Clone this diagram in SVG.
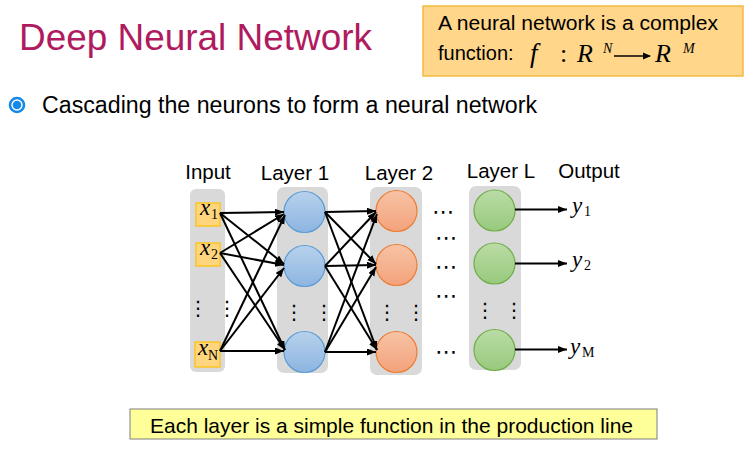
<svg xmlns="http://www.w3.org/2000/svg" width="752" height="459" viewBox="0 0 752 459">
  <style>
    .sans { font-family: "Liberation Sans", Arial, sans-serif; fill: #000; }
    .serif { font-family: "Liberation Serif", "Times New Roman", serif; fill: #000; }
    .hdr { font-size: 20.5px; text-anchor: middle; }
    .col { fill: #D9D9D9; }
    .inbox { fill: #FFD67F; stroke: #FFC000; stroke-width: 1.2; }
    .var { font-size: 23px; font-style: italic; }
    .sub { font-size: 14px; }
    .vdots { font-family: "DejaVu Sans", sans-serif; font-size: 20px; fill: #000; }
    .hdots { font-family: "DejaVu Sans", sans-serif; font-size: 22px; fill: #000; }
    .edge { stroke: #000; stroke-width: 2; fill: none; marker-end: url(#arrow); }
    .n1 { fill: url(#gBlue); stroke: #5B9BD5; stroke-width: 1.2; }
    .n2 { fill: url(#gOrange); stroke: #ED7D31; stroke-width: 1.2; }
    .nL { fill: url(#gGreen); stroke: #70AD47; stroke-width: 1.2; }
  </style>
  <defs>
    <marker id="arrow" markerUnits="userSpaceOnUse" markerWidth="10" markerHeight="8" refX="9" refY="3.5" orient="auto">
      <path d="M0,0 L9,3.5 L0,7 z" fill="#000"/>
    </marker>
    <linearGradient id="gBlue" x1="0" y1="0" x2="0" y2="1">
      <stop offset="0" stop-color="#B7D1EC"/>
      <stop offset="1" stop-color="#8DB5E1"/>
    </linearGradient>
    <linearGradient id="gOrange" x1="0" y1="0" x2="0" y2="1">
      <stop offset="0" stop-color="#F7C3A5"/>
      <stop offset="1" stop-color="#F3A27B"/>
    </linearGradient>
    <linearGradient id="gGreen" x1="0" y1="0" x2="0" y2="1">
      <stop offset="0" stop-color="#BADCA6"/>
      <stop offset="1" stop-color="#98C97D"/>
    </linearGradient>
  </defs>

  <rect width="752" height="459" fill="#fff"/>

  <!-- title -->
  <text id="title" x="19" y="50" class="sans" font-size="36" textLength="353" lengthAdjust="spacingAndGlyphs" style="fill:#B01A5E">Deep Neural Network</text>

  <!-- definition callout -->
  <g id="definition">
    <rect x="423" y="6" width="320" height="70" fill="#FFD68A" stroke="#F5B942" stroke-width="1.5"/>
    <text x="438" y="30" class="sans" font-size="20" textLength="280" lengthAdjust="spacingAndGlyphs">A neural network is a complex</text>
    <text x="438" y="60" class="sans" font-size="20">function:</text>
    <text x="530" y="62" class="serif" font-size="27" font-style="italic">f</text>
    <text x="560" y="62" class="serif" font-size="26">:</text>
    <text x="577" y="62" class="serif" font-size="26" font-style="italic">R</text>
    <text x="603" y="53" class="serif" font-size="14" font-style="italic">N</text>
    <line x1="614" y1="56" x2="650" y2="56" stroke="#000" stroke-width="1.3"/>
    <path d="M643,52.5 L651,56 L643,59.5 z" fill="#000"/>
    <text x="655" y="62" class="serif" font-size="26" font-style="italic">R</text>
    <text x="683" y="53" class="serif" font-size="14" font-style="italic">M</text>
  </g>

  <!-- bullet line -->
  <g id="bullet">
    <circle cx="17" cy="105" r="7" fill="none" stroke="#1589E8" stroke-width="2.6"/>
    <circle cx="17" cy="105" r="4.3" fill="#1589E8"/>
    <text x="42" y="113" class="sans" font-size="23" textLength="495" lengthAdjust="spacingAndGlyphs">Cascading the neurons to form a neural network</text>
  </g>

  <!-- column headers -->
  <text x="208" y="179" class="sans hdr">Input</text>
  <text x="295" y="180" class="sans hdr">Layer 1</text>
  <text x="399" y="180" class="sans hdr">Layer 2</text>
  <text x="501" y="178" class="sans hdr">Layer L</text>
  <text x="589" y="178" class="sans hdr">Output</text>

  <!-- input column -->
  <g id="input">
    <rect class="col" x="190" y="189" width="35" height="183" rx="6"/>
    <rect class="inbox" x="196" y="203" width="24" height="23"/>
    <text x="200" y="215" class="serif var">x</text><text x="211" y="219" class="serif sub">1</text>
    <rect class="inbox" x="196" y="243" width="24" height="23"/>
    <text x="200" y="255" class="serif var">x</text><text x="211" y="259" class="serif sub">2</text>
    <rect class="inbox" x="195" y="342" width="25" height="25"/>
    <text x="198" y="355" class="serif var">x</text><text x="208" y="360" class="serif sub">N</text>
    <text x="188" y="315" class="vdots">⋮</text>
    <text x="217" y="315" class="vdots">⋮</text>
  </g>

  <!-- layer 1 -->
  <g id="layer1">
    <rect class="col" x="277" y="187" width="51" height="186" rx="7"/>
    <circle class="n1" cx="304.5" cy="212" r="20.5"/>
    <circle class="n1" cx="304.5" cy="266" r="20.5"/>
    <circle class="n1" cx="304.5" cy="352" r="20.5"/>
    <text x="284" y="319" class="vdots">⋮</text>
    <text x="314" y="319" class="vdots">⋮</text>
  </g>

  <!-- layer 2 -->
  <g id="layer2">
    <rect class="col" x="370" y="187" width="52" height="188" rx="7"/>
    <circle class="n2" cx="396.5" cy="211" r="20.5"/>
    <circle class="n2" cx="396.5" cy="265" r="20.5"/>
    <circle class="n2" cx="396.5" cy="352" r="20.5"/>
    <text x="377" y="319" class="vdots">⋮</text>
    <text x="406" y="319" class="vdots">⋮</text>
  </g>

  <!-- intermediate layers elided -->
  <g id="elided">
    <text x="432" y="219" class="hdots">⋯</text>
    <text x="435" y="245" class="hdots">⋯</text>
    <text x="435" y="274" class="hdots">⋯</text>
    <text x="435" y="303" class="hdots">⋯</text>
    <text x="435" y="359" class="hdots">⋯</text>
  </g>

  <!-- layer L -->
  <g id="layerL">
    <rect class="col" x="469" y="186" width="52" height="184" rx="7"/>
    <circle class="nL" cx="494.5" cy="210.5" r="20.5"/>
    <circle class="nL" cx="494.5" cy="263.5" r="20.5"/>
    <circle class="nL" cx="494.5" cy="350" r="20.5"/>
    <text x="475" y="317" class="vdots">⋮</text>
    <text x="504" y="317" class="vdots">⋮</text>
  </g>

  <!-- outputs -->
  <g id="outputs">
    <text x="572" y="213" class="serif var">y</text><text x="584" y="216" class="serif sub">1</text>
    <text x="572" y="267" class="serif var">y</text><text x="584" y="270" class="serif sub">2</text>
    <text x="570" y="354" class="serif var">y</text><text x="582" y="357" class="serif sub">M</text>
  </g>

  <!-- connectors -->
  <g id="connectors">
    <line class="edge" x1="220" y1="213" x2="284" y2="212"/>
    <line class="edge" x1="220" y1="213" x2="284" y2="264"/>
    <line class="edge" x1="220" y1="213" x2="285" y2="350"/>
    <line class="edge" x1="220" y1="253" x2="284" y2="214"/>
    <line class="edge" x1="220" y1="253" x2="284" y2="265"/>
    <line class="edge" x1="220" y1="253" x2="285" y2="350"/>
    <line class="edge" x1="220" y1="351" x2="285" y2="215"/>
    <line class="edge" x1="220" y1="351" x2="284" y2="268"/>
    <line class="edge" x1="220" y1="351" x2="284" y2="351"/>

    <line class="edge" x1="325" y1="212" x2="376" y2="211"/>
    <line class="edge" x1="325" y1="212" x2="376" y2="264"/>
    <line class="edge" x1="325" y1="212" x2="377" y2="350"/>
    <line class="edge" x1="325" y1="266" x2="376" y2="212"/>
    <line class="edge" x1="325" y1="266" x2="376" y2="265"/>
    <line class="edge" x1="325" y1="266" x2="377" y2="350"/>
    <line class="edge" x1="325" y1="352" x2="377" y2="214"/>
    <line class="edge" x1="325" y1="352" x2="376" y2="267"/>
    <line class="edge" x1="325" y1="352" x2="376" y2="352"/>

    <line class="edge" x1="515" y1="209.5" x2="567" y2="209.5"/>
    <line class="edge" x1="515" y1="263.5" x2="567" y2="263.5"/>
    <line class="edge" x1="515" y1="349.5" x2="567" y2="349.5"/>
  </g>

  <!-- caption -->
  <g id="caption">
    <rect x="130" y="409" width="527" height="30" fill="#FFFF99" stroke="#7F7F7F" stroke-width="1"/>
    <text x="150" y="433" class="sans" font-size="21" textLength="483" lengthAdjust="spacingAndGlyphs">Each layer is a simple function in the production line</text>
  </g>
</svg>
